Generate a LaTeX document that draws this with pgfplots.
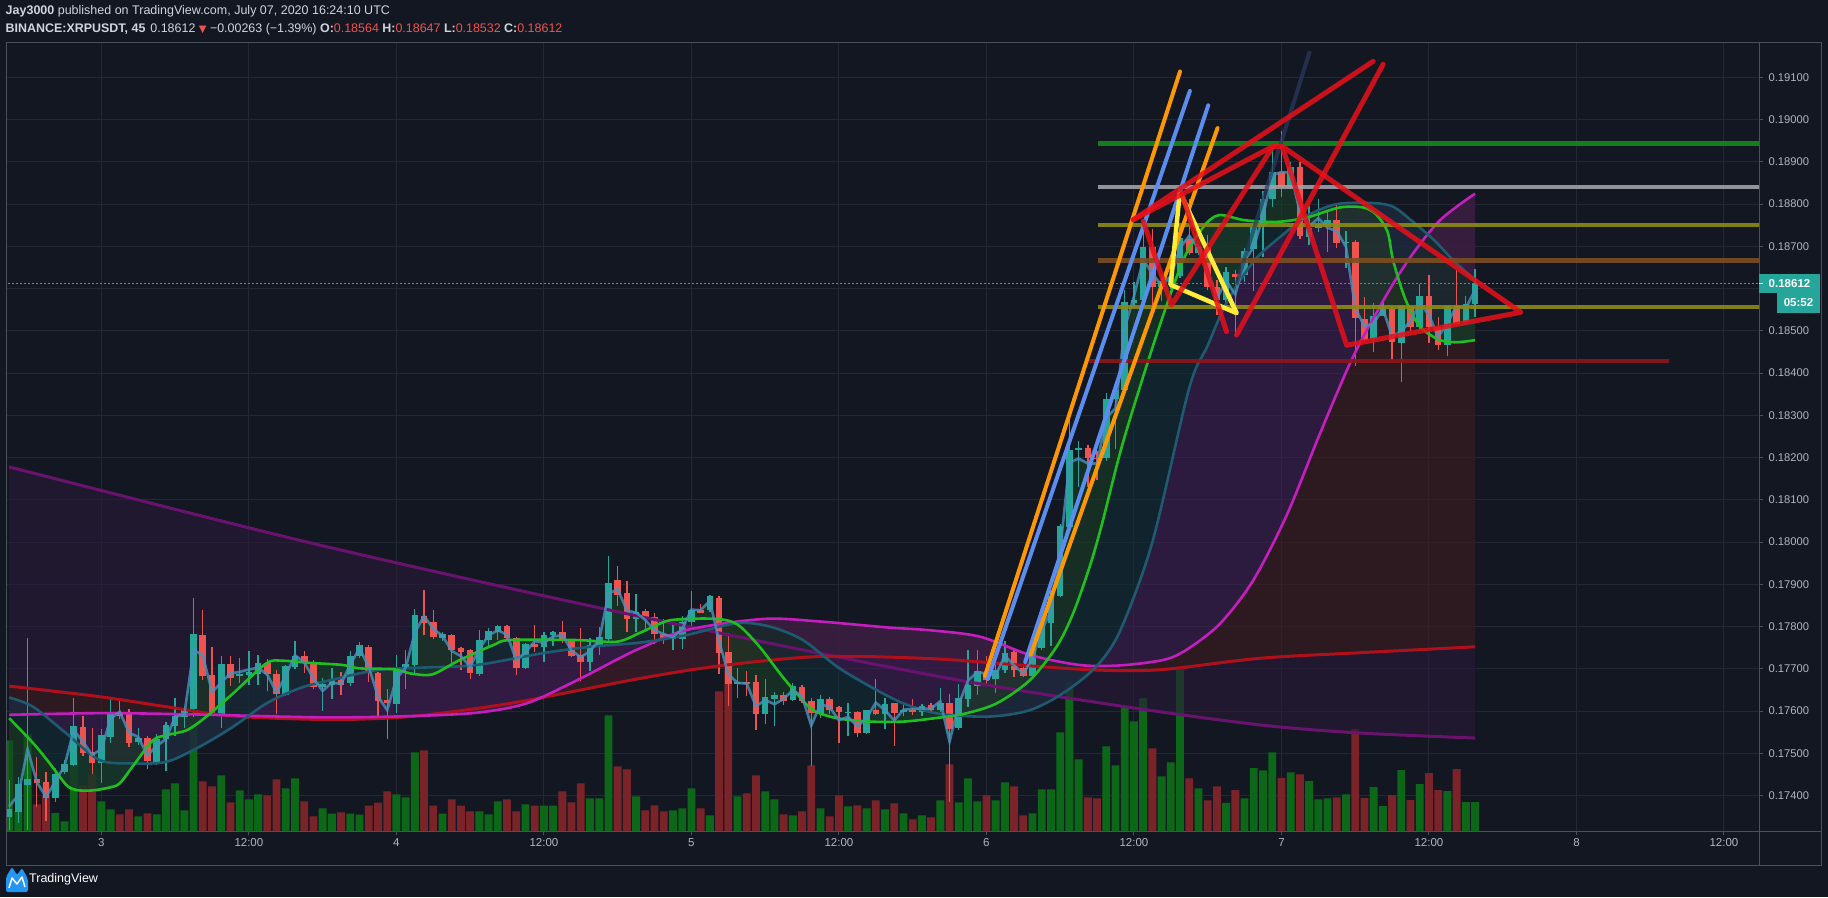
\documentclass[border=0pt]{standalone}
\usepackage{fontspec}
\setmainfont{Liberation Sans}
\newfontfamily\dejavu{DejaVu Sans}
\usepackage{pgfplots}
\pgfplotsset{compat=1.18}
\usepackage{pgfplotstable}

\definecolor{bg}{HTML}{131722}
\definecolor{gridc}{HTML}{242834}
\definecolor{framec}{HTML}{4C505B}
\definecolor{txt}{HTML}{B2B5BE}
\definecolor{hdr}{HTML}{D1D4DC}
\definecolor{upc}{HTML}{26A69A}
\definecolor{dnc}{HTML}{EF5350}
\definecolor{vup}{HTML}{0C6818}
\definecolor{vdn}{HTML}{7A2328}
\definecolor{cP}{HTML}{6A136E}
\definecolor{cR}{HTML}{B0101C}
\definecolor{cM}{HTML}{C41EBE}
\definecolor{cT}{HTML}{1E5A70}
\definecolor{cG}{HTML}{1FBF1F}
\definecolor{cB}{HTML}{4A90BC}
\definecolor{fRP}{RGB}{42,25,57}
\definecolor{fMR}{RGB}{61,28,31}
\definecolor{fTM}{RGB}{62,30,81}
\definecolor{fGT}{RGB}{17,46,54}
\definecolor{fBG}{RGB}{24,62,36}
\definecolor{tvorange}{HTML}{FF9800}
\definecolor{tvblue}{HTML}{5B8DEF}
\definecolor{tvyellow}{HTML}{FFEB3B}
\definecolor{tvred}{HTML}{E8101A}
\definecolor{hgreen}{HTML}{128A1C}
\definecolor{hgray}{HTML}{A0A0A8}
\definecolor{holive}{HTML}{8C8A15}
\definecolor{hbrown}{HTML}{7D4E22}
\definecolor{hred}{HTML}{8E1519}
\definecolor{navy}{HTML}{2B3A5E}
\definecolor{logoblue}{HTML}{2196F3}

\pgfplotstableread{
k o h l c v
0 0.17350 0.17437 0.17318 0.17368 90.7
1 0.17362 0.17445 0.17334 0.17427 20
2 0.17425 0.17772 0.17318 0.17440 96.7
3 0.17440 0.17492 0.17374 0.17429 26.7
4 0.17432 0.17456 0.17340 0.17393 35.7
5 0.17393 0.17464 0.17385 0.17452 18
6 0.17455 0.17483 0.17452 0.17475 9.7
7 0.17473 0.17630 0.17470 0.17565 70.7
8 0.17563 0.17589 0.17493 0.17501 45.7
9 0.17502 0.17559 0.17452 0.17478 56.7
10 0.17476 0.17557 0.17430 0.17543 29.7
11 0.17539 0.17628 0.17525 0.17593 21.7
12 0.17597 0.17626 0.17580 0.17588 16.7
13 0.17593 0.17606 0.17516 0.17525 21.7
14 0.17527 0.17561 0.17520 0.17535 14.7
15 0.17535 0.17541 0.17462 0.17482 17.7
16 0.17480 0.17546 0.17472 0.17533 16.7
17 0.17533 0.17575 0.17459 0.17567 41.7
18 0.17565 0.17631 0.17540 0.17588 47.7
19 0.17587 0.17610 0.17561 0.17606 20.7
20 0.17605 0.17867 0.17587 0.17782 106.7
21 0.17780 0.17839 0.17673 0.17683 49.7
22 0.17685 0.17752 0.17590 0.17593 44.7
23 0.17590 0.17730 0.17561 0.17711 55.7
24 0.17711 0.17730 0.17659 0.17679 28.7
25 0.17683 0.17725 0.17666 0.17687 40.7
26 0.17685 0.17741 0.17662 0.17693 31.7
27 0.17687 0.17733 0.17662 0.17713 36.7
28 0.17713 0.17723 0.17648 0.17687 35.7
29 0.17687 0.17697 0.17594 0.17640 51.7
30 0.17638 0.17709 0.17636 0.17707 42.7
31 0.17705 0.17766 0.17700 0.17730 52.7
32 0.17730 0.17742 0.17691 0.17714 29.7
33 0.17714 0.17722 0.17651 0.17658 14.7
34 0.17656 0.17679 0.17601 0.17663 22.7
35 0.17662 0.17701 0.17628 0.17673 17.3
36 0.17673 0.17693 0.17638 0.17662 18.7
37 0.17667 0.17742 0.17660 0.17730 17.3
38 0.17730 0.17764 0.17725 0.17756 16.3
39 0.17751 0.17756 0.17669 0.17689 25.3
40 0.17689 0.17693 0.17586 0.17624 28.3
41 0.17626 0.17652 0.17534 0.17620 39.7
42 0.17617 0.17733 0.17595 0.17703 36.7
43 0.17703 0.17744 0.17652 0.17711 33.7
44 0.17709 0.17841 0.17689 0.17827 78.7
45 0.17825 0.17886 0.17780 0.17809 80.7
46 0.17811 0.17839 0.17770 0.17776 25.3
47 0.17774 0.17786 0.17766 0.17782 17.3
48 0.17780 0.17782 0.17701 0.17744 31.7
49 0.17749 0.17752 0.17698 0.17740 25.3
50 0.17744 0.17748 0.17677 0.17689 19.7
51 0.17688 0.17792 0.17683 0.17768 19.7
52 0.17768 0.17796 0.17752 0.17789 16.7
53 0.17788 0.17804 0.17768 0.17801 29.7
54 0.17801 0.17804 0.17765 0.17774 31.7
55 0.17774 0.17776 0.17685 0.17701 19.7
56 0.17702 0.17760 0.17699 0.17758 26.7
57 0.17758 0.17804 0.17740 0.17752 25.3
58 0.17752 0.17788 0.17717 0.17781 25.3
59 0.17780 0.17790 0.17754 0.17786 25.3
60 0.17786 0.17813 0.17760 0.17766 39.7
61 0.17768 0.17770 0.17729 0.17731 28.7
62 0.17733 0.17796 0.17670 0.17717 47.7
63 0.17717 0.17774 0.17695 0.17756 32.7
64 0.17756 0.17798 0.17733 0.17776 32.7
65 0.17771 0.17967 0.17760 0.17904 115.7
66 0.17910 0.17943 0.17849 0.17875 64.7
67 0.17880 0.17908 0.17786 0.17819 61.7
68 0.17819 0.17877 0.17788 0.17835 34.7
69 0.17837 0.17842 0.17786 0.17819 20.7
70 0.17822 0.17833 0.17759 0.17782 25.7
71 0.17782 0.17818 0.17759 0.17770 19.7
72 0.17770 0.17804 0.17744 0.17776 20.7
73 0.17770 0.17824 0.17748 0.17811 22.7
74 0.17811 0.17883 0.17798 0.17839 42.7
75 0.17839 0.17853 0.17831 0.17833 22.7
76 0.17839 0.17875 0.17835 0.17872 15.7
77 0.17868 0.17872 0.17688 0.17738 139.7
78 0.17740 0.17784 0.17613 0.17664 196.7
79 0.17664 0.17701 0.17631 0.17668 34.7
80 0.17668 0.17695 0.17636 0.17664 37.7
81 0.17668 0.17685 0.17554 0.17594 55.7
82 0.17594 0.17677 0.17569 0.17633 39.7
83 0.17629 0.17645 0.17565 0.17638 31.7
84 0.17638 0.17646 0.17615 0.17624 16.7
85 0.17626 0.17666 0.17624 0.17659 15.7
86 0.17657 0.17662 0.17618 0.17624 19.7
87 0.17624 0.17630 0.17471 0.17595 65.7
88 0.17594 0.17638 0.17584 0.17628 22.7
89 0.17628 0.17633 0.17592 0.17602 14.7
90 0.17609 0.17613 0.17525 0.17597 35.7
91 0.17596 0.17620 0.17542 0.17597 24.7
92 0.17597 0.17601 0.17539 0.17549 25.7
93 0.17549 0.17603 0.17546 0.17602 22.7
94 0.17602 0.17676 0.17591 0.17593 30.7
95 0.17593 0.17632 0.17557 0.17617 21.7
96 0.17618 0.17620 0.17518 0.17595 27.7
97 0.17598 0.17620 0.17588 0.17602 17.7
98 0.17602 0.17628 0.17590 0.17597 11.7
99 0.17597 0.17617 0.17589 0.17611 15.7
100 0.17614 0.17620 0.17595 0.17602 13.7
101 0.17602 0.17655 0.17598 0.17618 30.7
102 0.17618 0.17640 0.17385 0.17557 66.7
103 0.17561 0.17664 0.17555 0.17630 28.7
104 0.17628 0.17744 0.17610 0.17662 52.7
105 0.17660 0.17744 0.17638 0.17695 29.7
106 0.17690 0.17730 0.17663 0.17673 35.7
107 0.17676 0.17713 0.17643 0.17698 30.7
108 0.17697 0.17766 0.17691 0.17737 48.7
109 0.17740 0.17748 0.17680 0.17696 44.7
110 0.17701 0.17705 0.17680 0.17683 15.7
111 0.17683 0.17751 0.17675 0.17748 17.7
112 0.17750 0.17820 0.17745 0.17809 41.7
113 0.17809 0.17885 0.17755 0.17873 41.7
114 0.17872 0.18042 0.17869 0.18037 98.7
115 0.18035 0.18311 0.18033 0.18219 149.7
116 0.18217 0.18240 0.18131 0.18223 71.7
117 0.18223 0.18229 0.18131 0.18198 33.7
118 0.18200 0.18215 0.18146 0.18197 32.7
119 0.18198 0.18352 0.18192 0.18339 84.7
120 0.18339 0.18368 0.18221 0.18361 65.7
121 0.18361 0.18597 0.18355 0.18569 123
122 0.18565 0.18616 0.18555 0.18574 109.7
123 0.18572 0.18747 0.18561 0.18699 132.7
124 0.18699 0.18742 0.18561 0.18604 82.7
125 0.18604 0.18635 0.18570 0.18618 54.7
126 0.18609 0.18660 0.18600 0.18628 68.7
127 0.18630 0.18745 0.18625 0.18719 163.7
128 0.18717 0.18812 0.18680 0.18684 52.7
129 0.18684 0.18706 0.18680 0.18699 42.7
130 0.18699 0.18727 0.18596 0.18604 30.7
131 0.18604 0.18620 0.18537 0.18572 44.7
132 0.18574 0.18651 0.18565 0.18639 28.1
133 0.18635 0.18644 0.18486 0.18627 40.8
134 0.18632 0.18695 0.18616 0.18689 32.7
135 0.18694 0.18753 0.18595 0.18747 62.8
136 0.18750 0.18830 0.18674 0.18812 60.7
137 0.18811 0.18936 0.18794 0.18877 78.6
138 0.18877 0.18972 0.18816 0.18840 53
139 0.18840 0.18900 0.18835 0.18889 58.7
140 0.18889 0.18900 0.18717 0.18725 56.6
141 0.18723 0.18796 0.18703 0.18743 50
142 0.18743 0.18812 0.18735 0.18753 31.6
143 0.18748 0.18784 0.18687 0.18762 32.7
144 0.18762 0.18803 0.18695 0.18709 33.7
145 0.18708 0.18737 0.18650 0.18711 36.7
146 0.18711 0.18715 0.18418 0.18531 102
147 0.18529 0.18580 0.18475 0.18478 33
148 0.18480 0.18567 0.18450 0.18535 44
149 0.18535 0.18573 0.18535 0.18551 25
150 0.18551 0.18557 0.18431 0.18474 36
151 0.18471 0.18559 0.18379 0.18559 61
152 0.18557 0.18560 0.18500 0.18509 31
153 0.18510 0.18612 0.18502 0.18582 47
154 0.18582 0.18632 0.18472 0.18510 58
155 0.18510 0.18534 0.18455 0.18467 41
156 0.18466 0.18559 0.18441 0.18559 40
157 0.18559 0.18643 0.18513 0.18517 62
158 0.18521 0.18582 0.18517 0.18564 29
159 0.18564 0.18647 0.18532 0.18612 29
}\cdata

% typical price (h+l+c)/3 of every candle: the light-blue line
\pgfplotstablecreatecol[create col/expr={(\thisrow{h}+\thisrow{l}+\thisrow{c})/3}]{p}{\cdata}

% green average, right to left; then the typical price left to right
\pgfplotstableread{
k p
159 0.18478
157 0.18473
155.2 0.18478
153.4 0.18502
152.3 0.18534
151.2 0.18589
150.1 0.18668
149.5 0.18735
148.3 0.18775
146.9 0.18792
144.3 0.18792
140.7 0.18768
137.5 0.18758
134 0.18762
131.2 0.18774
129.5 0.18745
127.3 0.18665
124.3 0.1848
120.8 0.18235
118.5 0.1804
117.2 0.17942
115.4 0.17831
113.6 0.17752
110.7 0.17673
107.1 0.17618
103.5 0.17593
100 0.17582
97 0.17575
93.4 0.17575
89.8 0.17583
87.2 0.17602
85.4 0.17642
83.6 0.17689
81.4 0.17752
79.3 0.178
77.8 0.17815
75.3 0.17819
71.7 0.17815
69.9 0.178
68.4 0.17785
65.9 0.17764
61.6 0.17768
54.3 0.17768
52.5 0.17756
48.9 0.17721
46.4 0.17691
45.3 0.17685
43.5 0.17689
41.7 0.17699
38 0.17701
36.2 0.17709
32.6 0.17714
29.7 0.17719
27.9 0.17713
24.3 0.17642
21.4 0.17587
19.3 0.17555
17.1 0.17543
15.6 0.17531
13.5 0.17472
12 0.17429
10.9 0.17419
9 0.17412
7.3 0.17413
6.2 0.17425
4.4 0.17476
2.6 0.17524
0 0.17583
}\fGB
\pgfplotstablevertcat{\fGB}{\cdata}

\pgfplotsset{geo/.style={at={(6.7pt,66pt)}, anchor=south west, scale only axis,
  width=1752.3pt, height=788pt, xmin=-0.27, xmax=189.8},
  candle/.style={only marks, mark=*, mark size=0pt, mark options={draw=none, fill=none},
  error bars/.cd, y dir=plus, y explicit, error mark=none}}

\begin{document}
\begin{tikzpicture}
\path[use as bounding box] (0,0) rectangle (1828pt,897pt);
\fill[bg] (0,0) rectangle (1828pt,897pt);

% ---------- axis 1: grid, ticks, tick labels
\begin{axis}[geo, ymin=0.17316, ymax=0.191815,
  axis line style={draw=none},
  xtick={10,26,42,58,74,90,106,122,138,154,170,186},
  xticklabels={3,12:00,4,12:00,5,12:00,6,12:00,7,12:00,8,12:00},
  ytick={0.174,0.175,0.176,0.177,0.178,0.179,0.180,0.181,0.182,0.183,0.184,0.185,0.186,0.187,0.188,0.189,0.190,0.191},
  yticklabels={0.17400,0.17500,0.17600,0.17700,0.17800,0.17900,0.18000,0.18100,0.18200,0.18300,0.18400,0.18500,{},0.18700,0.18800,0.18900,0.19000,0.19100},
  scaled y ticks=false,
  xtick pos=bottom, ytick pos=right, yticklabel pos=right,
  tick align=outside, major tick length=4pt,
  tick style={draw=framec, line width=1pt},
  grid=major, major grid style={draw=gridc, line width=1pt},
  xticklabel style={font=\fontsize{11.5}{12}\selectfont, text=txt},
  yticklabel style={font=\fontsize{11.2}{12}\selectfont, text=txt, anchor=west, xshift=2pt},
]
\addplot[draw=none, forget plot] coordinates {(0,0.18)};
\end{axis}

% ---------- axis 2: volume
\begin{axis}[geo, ymin=0, ymax=788, hide axis]
\addplot[ybar, bar width=0.85, bar shift=0pt, fill=vup, draw=none]
  table[x=k, y expr={\thisrow{c}>=\thisrow{o} ? \thisrow{v} : nan}] {\cdata};
\addplot[ybar, bar width=0.85, bar shift=0pt, fill=vdn, draw=none]
  table[x=k, y expr={\thisrow{c}<\thisrow{o} ? \thisrow{v} : nan}] {\cdata};
\end{axis}

% ---------- axis 3: price data
\begin{axis}[geo, ymin=0.17316, ymax=0.191815, hide axis]
% ribbon fills (closed polygons: one average forward, the next one back)
\addplot[fill=fRP, fill opacity=0.6, draw=none] coordinates {(0,0.18178) (32.5,0.17999) (66,0.17835) (100,0.17685) (120.5,0.17612) (135.7,0.17567) (146.5,0.17548) (159,0.17536)
 (159,0.17752) (146.5,0.17738) (135.7,0.17725) (125,0.17698) (118,0.17697) (110.7,0.17707) (100,0.17724) (87.9,0.17729) (77.1,0.17707) (68.4,0.17677) (54.3,0.17618) (43.5,0.17587) (34.8,0.1758) (24.3,0.17588) (17.1,0.1761) (9.8,0.17634) (0,0.17659)};
\addplot[fill=fMR, fill opacity=0.6, draw=none] coordinates {(0,0.17659) (9.8,0.17634) (17.1,0.1761) (24.3,0.17588) (34.8,0.1758) (43.5,0.17587) (54.3,0.17618) (68.4,0.17677) (77.1,0.17707) (87.9,0.17729) (100,0.17724) (110.7,0.17707) (118,0.17697) (125,0.17698) (135.7,0.17725) (146.5,0.17738) (159,0.17752)
 (159,0.18825) (155.2,0.18762) (152,0.18675) (149.4,0.18585) (145.8,0.1844) (142.2,0.18258) (138.6,0.18065) (134.9,0.17908) (131.3,0.17806) (127.7,0.17745) (125.2,0.17721) (120.5,0.17708) (116.1,0.17709) (110.7,0.17733) (105.3,0.17776) (100,0.17791) (95.2,0.17798) (87.9,0.17812) (81.8,0.17818) (73.5,0.17792) (68.4,0.17748) (66.2,0.17725) (61.6,0.17673) (56.1,0.17618) (50.7,0.17596) (43.5,0.17588) (34,0.17585) (20,0.17592) (10,0.17595) (0,0.17591)};
\addplot[fill=fTM, fill opacity=0.6, draw=none] coordinates {(0,0.17591) (10,0.17595) (20,0.17592) (34,0.17585) (43.5,0.17588) (50.7,0.17596) (56.1,0.17618) (61.6,0.17673) (66.2,0.17725) (68.4,0.17748) (73.5,0.17792) (81.8,0.17818) (87.9,0.17812) (95.2,0.17798) (100,0.17791) (105.3,0.17776) (110.7,0.17733) (116.1,0.17709) (120.5,0.17708) (125.2,0.17721) (127.7,0.17745) (131.3,0.17806) (134.9,0.17908) (138.6,0.18065) (142.2,0.18258) (145.8,0.1844) (149.4,0.18585) (152,0.18675) (155.2,0.18762) (159,0.18825)
 (159,0.1862) (156.6,0.18668) (154.5,0.18716) (152,0.18763) (150,0.18795) (147.5,0.18803) (144,0.188) (141,0.18775) (138,0.18725) (135,0.18665) (132,0.18565) (130,0.18465) (128,0.18365) (124,0.18) (120.5,0.1779) (117.9,0.17705) (114.3,0.17642) (110.7,0.17602) (106.4,0.17587) (101,0.17593) (97,0.17618) (93.4,0.17658) (89.8,0.17705) (86.1,0.17768) (82.5,0.178) (78.9,0.17808) (73.5,0.1778) (68.4,0.17762) (63,0.17752) (57.9,0.17737) (50.7,0.17709) (45,0.17703) (39.9,0.17697) (34.8,0.17673) (31.5,0.17654) (27.9,0.17618) (24.3,0.17563) (20.7,0.17516) (17.1,0.1748) (13.5,0.17476) (9.8,0.17484) (6.2,0.17547) (2.6,0.1761) (0,0.17632)};
\addplot[fill=fGT, fill opacity=0.6, draw=none] coordinates {(0,0.17632) (2.6,0.1761) (6.2,0.17547) (9.8,0.17484) (13.5,0.17476) (17.1,0.1748) (20.7,0.17516) (24.3,0.17563) (27.9,0.17618) (31.5,0.17654) (34.8,0.17673) (39.9,0.17697) (45,0.17703) (50.7,0.17709) (57.9,0.17737) (63,0.17752) (68.4,0.17762) (73.5,0.1778) (78.9,0.17808) (82.5,0.178) (86.1,0.17768) (89.8,0.17705) (93.4,0.17658) (97,0.17618) (101,0.17593) (106.4,0.17587) (110.7,0.17602) (114.3,0.17642) (117.9,0.17705) (120.5,0.1779) (124,0.18) (128,0.18365) (130,0.18465) (132,0.18565) (135,0.18665) (138,0.18725) (141,0.18775) (144,0.188) (147.5,0.18803) (150,0.18795) (152,0.18763) (154.5,0.18716) (156.6,0.18668) (159,0.1862)
 (159,0.18478) (157,0.18473) (155.2,0.18478) (153.4,0.18502) (152.3,0.18534) (151.2,0.18589) (150.1,0.18668) (149.5,0.18735) (148.3,0.18775) (146.9,0.18792) (144.3,0.18792) (140.7,0.18768) (137.5,0.18758) (134,0.18762) (131.2,0.18774) (129.5,0.18745) (127.3,0.18665) (124.3,0.1848) (120.8,0.18235) (118.5,0.1804) (117.2,0.17942) (115.4,0.17831) (113.6,0.17752) (110.7,0.17673) (107.1,0.17618) (103.5,0.17593) (100,0.17582) (97,0.17575) (93.4,0.17575) (89.8,0.17583) (87.2,0.17602) (85.4,0.17642) (83.6,0.17689) (81.4,0.17752) (79.3,0.178) (77.8,0.17815) (75.3,0.17819) (71.7,0.17815) (69.9,0.178) (68.4,0.17785) (65.9,0.17764) (61.6,0.17768) (54.3,0.17768) (52.5,0.17756) (48.9,0.17721) (46.4,0.17691) (45.3,0.17685) (43.5,0.17689) (41.7,0.17699) (38,0.17701) (36.2,0.17709) (32.6,0.17714) (29.7,0.17719) (27.9,0.17713) (24.3,0.17642) (21.4,0.17587) (19.3,0.17555) (17.1,0.17543) (15.6,0.17531) (13.5,0.17472) (12,0.17429) (10.9,0.17419) (9,0.17412) (7.3,0.17413) (6.2,0.17425) (4.4,0.17476) (2.6,0.17524) (0,0.17583)};
\addplot[fill=fBG, fill opacity=0.6, draw=none] table[x=k, y=p] {\fGB};
% current price line
\addplot[upc, line width=1pt, dash pattern=on 2pt off 2pt] coordinates {(-1,0.18612) (200,0.18612)};
% wicks
\addplot[candle, error bar style={line width=1.3pt, draw=upc}]
  table[x=k, y expr={\thisrow{c}>=\thisrow{o} ? \thisrow{l} : nan}, y error expr={\thisrow{h}-\thisrow{l}}] {\cdata};
\addplot[candle, error bar style={line width=1.3pt, draw=dnc}]
  table[x=k, y expr={\thisrow{c}<\thisrow{o} ? \thisrow{l} : nan}, y error expr={\thisrow{h}-\thisrow{l}}] {\cdata};
% bodies
\addplot[candle, error bar style={line width=6.6pt, draw=upc}]
  table[x=k, y expr={\thisrow{c}>=\thisrow{o} ? \thisrow{o} : nan}, y error expr={max(\thisrow{c}-\thisrow{o},0.00002)}] {\cdata};
\addplot[candle, error bar style={line width=6.6pt, draw=dnc}]
  table[x=k, y expr={\thisrow{c}<\thisrow{o} ? \thisrow{c} : nan}, y error expr={max(\thisrow{o}-\thisrow{c},0.00002)}] {\cdata};
% moving averages
\addplot[cP, line width=3pt, smooth] coordinates {(0,0.18178) (32.5,0.17999) (66,0.17835) (100,0.17685) (120.5,0.17612) (135.7,0.17567) (146.5,0.17548) (159,0.17536)};
\addplot[cR, line width=3pt, smooth] coordinates {(0,0.17659) (9.8,0.17634) (17.1,0.1761) (24.3,0.17588) (34.8,0.1758) (43.5,0.17587) (54.3,0.17618) (68.4,0.17677) (77.1,0.17707) (87.9,0.17729) (100,0.17724) (110.7,0.17707) (118,0.17697) (125,0.17698) (135.7,0.17725) (146.5,0.17738) (159,0.17752)};
\addplot[cM, line width=2.6pt, smooth] coordinates {(0,0.17591) (10,0.17595) (20,0.17592) (34,0.17585) (43.5,0.17588) (50.7,0.17596) (56.1,0.17618) (61.6,0.17673) (66.2,0.17725) (68.4,0.17748) (73.5,0.17792) (81.8,0.17818) (87.9,0.17812) (95.2,0.17798) (100,0.17791) (105.3,0.17776) (110.7,0.17733) (116.1,0.17709) (120.5,0.17708) (125.2,0.17721) (127.7,0.17745) (131.3,0.17806) (134.9,0.17908) (138.6,0.18065) (142.2,0.18258) (145.8,0.1844) (149.4,0.18585) (152,0.18675) (155.2,0.18762) (159,0.18825)};
\addplot[cT, line width=2.6pt, smooth] coordinates {(0,0.17632) (2.6,0.1761) (6.2,0.17547) (9.8,0.17484) (13.5,0.17476) (17.1,0.1748) (20.7,0.17516) (24.3,0.17563) (27.9,0.17618) (31.5,0.17654) (34.8,0.17673) (39.9,0.17697) (45,0.17703) (50.7,0.17709) (57.9,0.17737) (63,0.17752) (68.4,0.17762) (73.5,0.1778) (78.9,0.17808) (82.5,0.178) (86.1,0.17768) (89.8,0.17705) (93.4,0.17658) (97,0.17618) (101,0.17593) (106.4,0.17587) (110.7,0.17602) (114.3,0.17642) (117.9,0.17705) (120.5,0.1779) (124,0.18) (128,0.18365) (130,0.18465) (132,0.18565) (135,0.18665) (138,0.18725) (141,0.18775) (144,0.188) (147.5,0.18803) (150,0.18795) (152,0.18763) (154.5,0.18716) (156.6,0.18668) (159,0.1862)};
\addplot[cG, line width=2.6pt, smooth] coordinates {(0,0.17583) (2.6,0.17524) (4.4,0.17476) (6.2,0.17425) (7.3,0.17413) (9,0.17412) (10.9,0.17419) (12,0.17429) (13.5,0.17472) (15.6,0.17531) (17.1,0.17543) (19.3,0.17555) (21.4,0.17587) (24.3,0.17642) (27.9,0.17713) (29.7,0.17719) (32.6,0.17714) (36.2,0.17709) (38,0.17701) (41.7,0.17699) (43.5,0.17689) (45.3,0.17685) (46.4,0.17691) (48.9,0.17721) (52.5,0.17756) (54.3,0.17768) (61.6,0.17768) (65.9,0.17764) (68.4,0.17785) (69.9,0.178) (71.7,0.17815) (75.3,0.17819) (77.8,0.17815) (79.3,0.178) (81.4,0.17752) (83.6,0.17689) (85.4,0.17642) (87.2,0.17602) (89.8,0.17583) (93.4,0.17575) (97,0.17575) (100,0.17582) (103.5,0.17593) (107.1,0.17618) (110.7,0.17673) (113.6,0.17752) (115.4,0.17831) (117.2,0.17942) (118.5,0.1804) (120.8,0.18235) (124.3,0.1848) (127.3,0.18665) (129.5,0.18745) (131.2,0.18774) (134,0.18762) (137.5,0.18758) (140.7,0.18768) (144.3,0.18792) (146.9,0.18792) (148.3,0.18775) (149.5,0.18735) (150.1,0.18668) (151.2,0.18589) (152.3,0.18534) (153.4,0.18502) (155.2,0.18478) (157,0.18473) (159,0.18478)};
\addplot[cB, line width=2.6pt, opacity=0.8] table[x=k, y=p] {\cdata};
% horizontal drawn levels
\addplot[hgreen, line width=4.5pt, opacity=0.9] coordinates {(118.1,0.18943) (200,0.18943)};
\addplot[hgray, line width=4.5pt, opacity=0.9] coordinates {(118.1,0.1884) (200,0.1884)};
\addplot[holive, line width=4.5pt, opacity=0.9] coordinates {(118.1,0.18751) (200,0.18751)};
\addplot[hbrown, line width=4.5pt, opacity=0.9] coordinates {(118.1,0.18667) (200,0.18667)};
\addplot[holive, line width=4.5pt, opacity=0.9] coordinates {(118.1,0.18557) (200,0.18557)};
\addplot[hred, line width=4.5pt, opacity=0.9] coordinates {(117.1,0.18429) (180,0.18429)};
% trend lines
\addplot[tvorange, line width=4pt, line cap=round] coordinates {(105.84,0.17683) (127.0,0.19114)};
\addplot[tvblue, line width=4pt, line cap=round] coordinates {(106.16,0.17676) (128.07,0.19068)};
\addplot[tvblue, line width=4pt, line cap=round] coordinates {(110.2,0.17716) (130.06,0.19034)};
\addplot[tvorange, line width=4pt, line cap=round] coordinates {(110.8,0.17733) (131.07,0.18980)};
\addplot[navy, line width=4pt, opacity=0.7] coordinates {(133.1,0.18609) (141.08,0.19162)};
% yellow triangle
\addplot[tvyellow, line width=4.5pt, line join=round] coordinates {(126.98,0.18829) (125.98,0.18609) (133.14,0.18542) (126.98,0.18829)};
% red drawings
\addplot[tvred, line width=5pt, opacity=0.85, line cap=round] coordinates {(121.92,0.18763) (147.95,0.19138)};
\addplot[tvred, line width=5pt, opacity=0.85, line cap=round] coordinates {(121.92,0.18763) (137.1,0.18937)};
\addplot[tvred, line width=5pt, opacity=0.85, line cap=round, line join=round] coordinates {(123.0,0.1876) (126.08,0.18561) (137.1,0.18937) (138.08,0.18937)};
\addplot[tvred, line width=5pt, opacity=0.85, line cap=round] coordinates {(127.17,0.18826) (132.05,0.18498)};
\addplot[tvred, line width=5pt, opacity=0.85, line cap=round] coordinates {(133.13,0.1849) (149.03,0.19131)};
\addplot[tvred, line width=5pt, opacity=0.85, line join=round] coordinates {(138.08,0.18937) (145.07,0.18466) (163.97,0.18544) (138.08,0.18937)};
\end{axis}

% ---------- frame
\draw[framec, line width=1pt] (6.5pt,32pt) rectangle (1821.5pt,854.5pt);
\draw[framec, line width=1pt] (1759pt,32pt) -- (1759pt,854.5pt);
\draw[framec, line width=1pt] (6.5pt,66pt) -- (1821.5pt,66pt);

% ---------- price labels
\node[fill=upc, text=white, minimum width=61pt, minimum height=19.5pt, inner sep=0pt,
  font=\fontsize{11.5}{12}\selectfont\bfseries] at (1789.5pt,613.5pt) {0.18612};
\draw[white, line width=1pt] (1759pt,613.5pt) -- (1762.5pt,613.5pt);
\node[fill=upc, text=white, minimum width=43pt, minimum height=19.5pt, inner sep=0pt,
  font=\fontsize{11.5}{12}\selectfont\bfseries] at (1798.5pt,594pt) {05:52};

% ---------- header
\node[anchor=west, inner sep=0pt, text=hdr, font=\fontsize{12.5}{14}\selectfont] at (5.5pt,885.3pt)
  {\textbf{Jay3000} published on TradingView.com, July 07, 2020 16:24:10 UTC};
\node[anchor=west, inner sep=0pt, text=hdr, font=\fontsize{12.45}{14}\selectfont] at (5.5pt,868pt)
  {\textbf{BINANCE:XRPUSDT, 45}\hspace{5pt}0.18612 {\color{dnc}\dejavu\fontsize{10}{12}\selectfont ▼} −0.00263 (−1.39\%) \textbf{O:}{\color{dnc}0.18564} \textbf{H:}{\color{dnc}0.18647} \textbf{L:}{\color{dnc}0.18532} \textbf{C:}{\color{dnc}0.18612}};

% ---------- logo
\fill[logoblue, rounded corners=2pt] (6pt,5pt) -- (6pt,20pt) -- (12pt,30pt) -- (17pt,22pt) -- (22pt,29pt) -- (28pt,18pt) -- (28pt,5pt) -- cycle;
\draw[white, line width=1.5pt, line join=round] (9pt,9pt) -- (12pt,19pt) -- (17pt,13pt) -- (22pt,20pt) -- (25pt,10pt);
\node[anchor=west, inner sep=0pt, text=white, font=\fontsize{12.5}{14}\selectfont] at (29pt,18pt) {TradingView};
\end{tikzpicture}
\end{document}
